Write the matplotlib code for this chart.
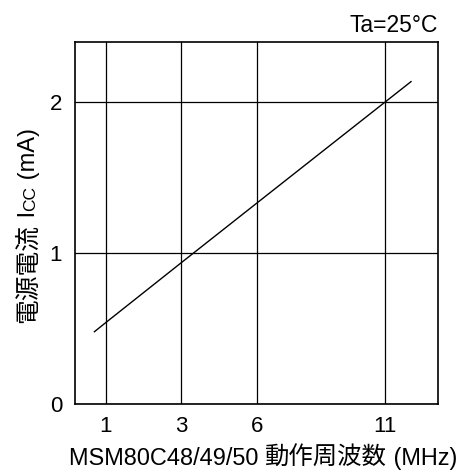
import matplotlib
matplotlib.use("Agg")
import matplotlib.pyplot as plt
import numpy as np

# 周波数軸の目盛 (不等間隔)
freq_ticks = [1, 3, 6, 11]
tick_pos = [0.0, 75.3, 151.0, 279.6]

# 電源電流 Icc (mA)
freq = [0.7, 1, 3, 6, 11, 12]
icc = [0.48, 0.54, 0.935, 1.33, 2.0, 2.134]

y_ticks = [0, 1, 2]

F = np.array(freq_ticks, float)
P = np.array(tick_pos, float)


def _pw(v, a, b):
    v = np.asarray(v, float)
    out = np.interp(v, a, b)
    lo = b[0] + (v - a[0]) * (b[1] - b[0]) / (a[1] - a[0])
    hi = b[-1] + (v - a[-1]) * (b[-1] - b[-2]) / (a[-1] - a[-2])
    out = np.where(v < a[0], lo, out)
    out = np.where(v > a[-1], hi, out)
    return out


def fwd(v):
    return _pw(v, F, P)


def inv(v):
    return _pw(v, P, F)


fam = ['Liberation Sans', 'Noto Sans CJK JP']
plt.rcParams['font.family'] = fam

W, H = 459, 471
fig = plt.figure(figsize=(W / 100, H / 100), dpi=100)
ax = fig.add_axes([75.3 / W, 1 - 404.3 / H, 363 / W, 362.6 / H])

ax.set_xscale('function', functions=(fwd, inv))
ax.set_xlim(inv(-30.4), inv(332.6))
ax.set_ylim(0, 2.398)

ax.plot(freq, icc, color='black', lw=1.0)

ax.set_xticks(freq_ticks)
ax.set_xticklabels([str(t) for t in freq_ticks])
ax.set_yticks(y_ticks)
ax.minorticks_off()
ax.tick_params(length=0, labelsize=16)
ax.tick_params(axis='y', pad=9.5)
ax.tick_params(axis='x', pad=8.5)
ax.grid(True, color='black', lw=0.9)
for s in ax.spines.values():
    s.set_linewidth(1.2)

ax.text(1.0, 1.0 + 9.4 / 362.6, 'Ta=25°C', transform=ax.transAxes,
        ha='right', va='baseline', fontsize=16.5)

fig.canvas.draw()
r = fig.canvas.get_renderer()

# 横軸ラベル
xb = 68.8
for txt, fs in [('MSM80C48/49/50 ', 16.9), ('動作周波数', 17.6), (' (MHz)', 16.9)]:
    t = fig.text(xb / W, 1 - 465 / H, txt, ha='left', va='baseline', fontsize=fs)
    xb = t.get_window_extent(r).x1

# 縦軸ラベル (CC は小さめ)
yb = H - 323.3
for txt, fs in [('電源電流', 17.8), (' I', 17), ('CC', 12.5), (' (mA)', 17)]:
    t = fig.text(35 / W, yb / H, txt, rotation=90, rotation_mode='anchor',
                 ha='left', va='baseline', fontsize=fs)
    yb = t.get_window_extent(r).y1

fig.savefig('out.png', dpi=100)
